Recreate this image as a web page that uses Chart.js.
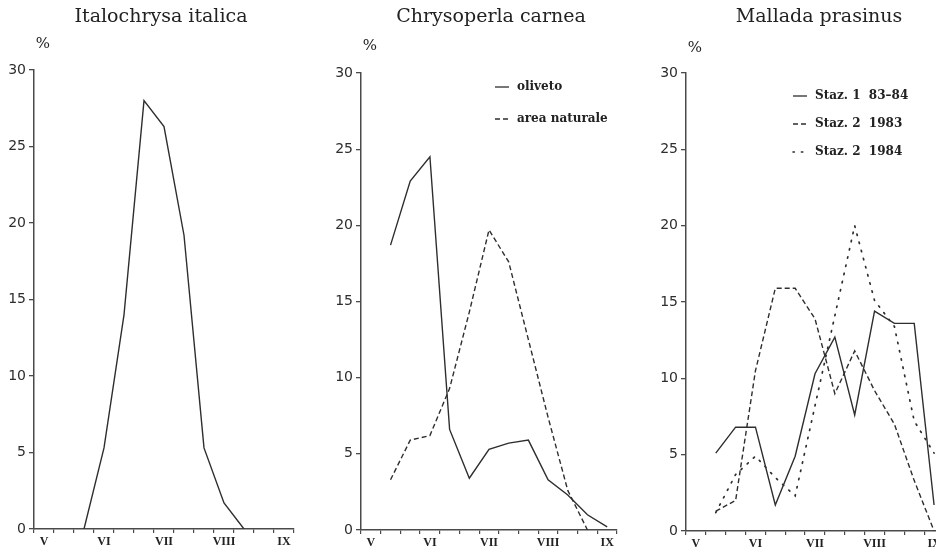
<!DOCTYPE html>
<html>
<head>
<meta charset="utf-8">
<script src="https://cdn.jsdelivr.net/npm/chart.js@4.4.1/dist/chart.umd.min.js"></script>
<style>
  html, body { margin: 0; padding: 0; background: #fff; overflow: hidden; width: 936px; height: 552px; position: relative; }
  canvas { position: absolute; top: 0; }
</style>
</head>
<body>
<canvas id="c1" width="298" height="552" style="left:0px"></canvas>
<canvas id="c2" width="294" height="552" style="left:327px"></canvas>
<canvas id="c3" width="296" height="552" style="left:652px"></canvas>
<script>
// ── DATA ─────────────────────────────────────
// one category per ten-day period, May → early September
const decades    = ['V-1','V-2','V-3','VI-1','VI-2','VI-3','VII-1','VII-2','VII-3','VIII-1','VIII-2','VIII-3','IX-1'];
const monthTicks = ['V','','','VI','','','VII','','','VIII','','','IX'];

const italica         = [null, null, 0, 5.3, 14.0, 28.0, 26.3, 19.2, 5.3, 1.7, 0, null, null];

const carneaOliveto   = [null, 18.7, 22.9, 24.5, 6.6, 3.4, 5.3, 5.7, 5.9, 3.3, 2.3, 1.0, 0.2];
const carneaNaturale  = [null, 3.3, 5.9, 6.2, 9.3, 14.3, 19.7, 17.6, 12.5, 7.4, 2.6, 0, null];

const prasinusSt1     = [null, 5.1, 6.8, 6.8, 1.7, 4.9, 10.3, 12.7, 7.6, 14.4, 13.6, 13.6, 1.7];
const prasinusSt2_83  = [null, 1.3, 2.0, 10.5, 15.9, 15.9, 13.9, 9.0, 11.8, 9.2, 7.0, 3.3, 0];
const prasinusSt2_84  = [null, 1.2, 3.7, 4.9, 3.5, 2.3, 8.2, 14.1, 20.0, 15.1, 13.4, 7.2, 5.1];

// ── STYLE ────────────────────────────────────
const INK   = '#2e2e2e';
const AXIS  = '#4a4a4a';
const SOLID = [];
const DASH  = [5, 3];
const DOT   = [1.4, 7];

// titles, "%" label and the little legends, drawn on the canvas
const panelText = {
  id: 'panelText',
  afterDraw(chart) {
    const o = chart.options.plugins.panelText;
    const { ctx, chartArea: a } = chart;
    ctx.save();
    ctx.fillStyle = '#222';
    ctx.font = '19px "DejaVu Serif", serif';
    ctx.textAlign = 'center';
    ctx.textBaseline = 'alphabetic';
    ctx.fillText(o.title, (a.left + a.right) / 2 + o.titleDx, 22);

    ctx.font = '15px "DejaVu Serif", serif';
    ctx.textBaseline = 'middle';
    ctx.fillText('%', a.left + 9, o.pctY);

    (o.legend || []).forEach((it, i) => {
      const y = o.legY + i * o.legGap;
      const x0 = a.left + o.legX;
      ctx.beginPath();
      ctx.setLineDash(it.dash);
      ctx.lineCap = it.dash === DOT ? 'round' : 'butt';
      ctx.strokeStyle = INK;
      ctx.lineWidth = it.dash === DOT ? 1.6 : 1.3;
      ctx.moveTo(x0, y);
      ctx.lineTo(x0 + 14, y);
      ctx.stroke();
      ctx.setLineDash([]);
      ctx.fillStyle = '#222';
      ctx.font = 'bold 12px "DejaVu Serif", serif';
      ctx.textAlign = 'left';
      ctx.fillText(it.label, x0 + 22, y);
    });
    ctx.restore();
  }
};

function line(data, dash) {
  return {
    data, borderDash: dash,
    borderColor: INK,
    borderWidth: dash === DOT ? 1.7 : 1.4,
    borderCapStyle: dash === DOT ? 'round' : 'butt',
    pointRadius: 0, tension: 0, fill: false
  };
}

function makePanel(id, datasets, top, xh, text) {
  return new Chart(document.getElementById(id), {
    type: 'line',
    data: { labels: decades, datasets },
    options: {
      responsive: false,
      animation: false,
      layout: { padding: { top, right: 4, left: 0, bottom: 0 } },
      plugins: { legend: { display: false }, tooltip: { enabled: false }, panelText: text },
      scales: {
        x: {
          type: 'category', offset: true,
          grid: { offset: true, drawOnChartArea: false, tickLength: 4, color: AXIS, lineWidth: 1.2 },
          border: { color: AXIS, width: 1.5 },
          ticks: {
            autoSkip: false, maxRotation: 0, padding: 2, color: '#222',
            font: { family: 'Liberation Serif', weight: 'bold', size: 12 },
            callback: (v, i) => monthTicks[i]
          },
          afterFit(s) { s.height = xh; }
        },
        y: {
          min: 0, max: 30,
          grid: { drawOnChartArea: false, tickLength: 5, color: AXIS, lineWidth: 1.3 },
          border: { color: AXIS, width: 1.5 },
          ticks: { stepSize: 5, padding: 3, color: INK, font: { family: 'DejaVu Sans', size: 14 } },
          afterFit(s) { s.width = 34; }
        }
      }
    },
    plugins: [panelText]
  });
}

// ── PANELS ───────────────────────────────────
makePanel('c1', [line(italica, SOLID)], 70, 23,
  { title: 'Italochrysa italica', titleDx: -3, pctY: 44 });

makePanel('c2', [line(carneaOliveto, SOLID), line(carneaNaturale, DASH)], 73, 22,
  { title: 'Chrysoperla carnea', titleDx: 2, pctY: 46,
    legX: 134, legY: 87, legGap: 32,
    legend: [{ label: 'oliveto', dash: SOLID }, { label: 'area naturale', dash: DASH }] });

makePanel('c3', [line(prasinusSt1, SOLID), line(prasinusSt2_83, DASH), line(prasinusSt2_84, DOT)], 73, 21,
  { title: 'Mallada prasinus', titleDx: 4, pctY: 48,
    legX: 107, legY: 96, legGap: 28,
    legend: [{ label: 'Staz. 1  83–84', dash: SOLID }, { label: 'Staz. 2  1983', dash: DASH }, { label: 'Staz. 2  1984', dash: DOT }] });
</script>
</body>
</html>
